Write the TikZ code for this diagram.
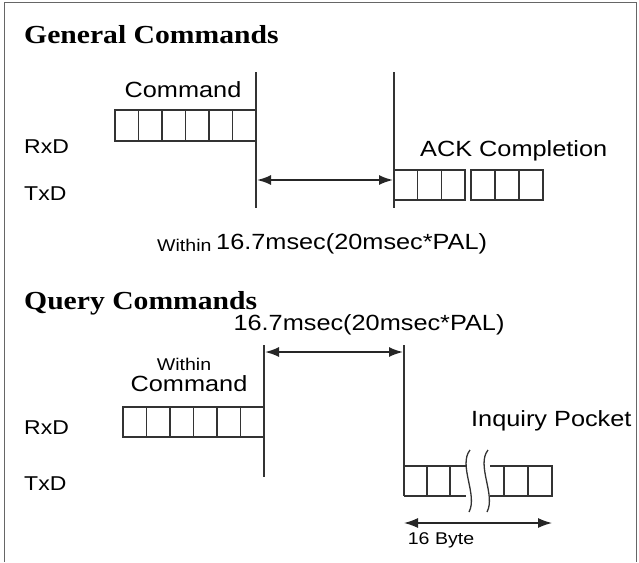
\documentclass[tikz,border=0pt]{standalone}
\usepackage{fontspec}
\setmainfont{Liberation Sans}[FakeStretch=1.15]
\newfontfamily\hdfont{Liberation Serif}[FakeStretch=1.14]
\usetikzlibrary{arrows.meta}
\begin{document}
\begin{tikzpicture}[x=1pt,y=-1pt,
  lbl/.style={font=\fontsize{22}{24}\selectfont, inner sep=0pt},
  side/.style={font=\fontsize{20}{22}\selectfont, inner sep=0pt, anchor=west},
  small/.style={font=\fontsize{17}{19}\selectfont, inner sep=0pt},
  hd/.style={font=\hdfont\bfseries\fontsize{26}{28}\selectfont, inner sep=0pt, anchor=west},
  ln/.style={line width=1.3pt, draw=black!80},
  tip/.style={Latex[length=13pt,width=9pt]},
  arr/.style={draw=black!85, line width=1.8pt, {Latex[length=14pt,width=10pt]}-{Latex[length=14pt,width=10pt]}}]
\useasboundingbox (0,0) rectangle (639,562);
\draw[black!60, line width=1pt] (4,562) -- (4,2) -- (636,2) -- (636,562);
% General
\node[hd] (g) at (24,35) {General Commands};
\node[side] (r1) at (24,147) {RxD};
\node[side] (t1) at (24,194) {TxD};
\foreach \i in {0,...,5} \draw[ln] (115+\i*23.5,110) rectangle ++(23.5,31);
\coordinate (a1) at (256,72); \coordinate (a1b) at (256,208);
\coordinate (b1) at (394,72); \coordinate (b1b) at (394,208);
\draw[ln] (a1) -- (a1b); \draw[ln] (b1) -- (b1b);
\coordinate (aa) at (257,180); \coordinate (bb) at (393,180);
\draw[arr] (aa) -- (bb);
\foreach \i in {0,...,2} \draw[ln] (394+\i*23.7,170) rectangle ++(23.7,30);
\foreach \i in {0,...,2} \draw[ln] (471+\i*24,170) rectangle ++(24,30);
\node[lbl] (c1) at (183,90) {Command};
\node[lbl, anchor=west] (ack) at (420,151) {ACK Completion};
\node[small, anchor=base west] (w1) at (157,251) {Within};
\node[lbl, anchor=base west] (t17) at (216,249) {16.7msec(20msec*PAL)};
% Query
\node[hd] (q) at (24,303) {Query Commands};
\node[side] (r2) at (24,428) {RxD};
\node[side] (t2) at (24,484) {TxD};
\coordinate (a2) at (264,345); \coordinate (a2b) at (264,477);
\coordinate (b2) at (404,345); \coordinate (b2b) at (404,480);
\draw[ln] (a2) -- (a2b); \draw[ln] (b2) -- (b2b);
\coordinate (aq) at (265,352); \coordinate (bq) at (403,352);
\draw[arr] (aq) -- (bq);
\node[lbl] (t172) at (369,325) {16.7msec(20msec*PAL)};
\node[small] (w2) at (184,364) {Within};
\node[lbl] (c2) at (189,384) {Command};
\foreach \i in {0,...,5} \draw[ln] (123+\i*23.5,407) rectangle ++(23.5,30);
\draw[ln] (404,466) -- (478,466) (404,496) -- (478,496);
\draw[ln] (404,466) -- (404,496) (427,466) -- (427,496) (450,466) -- (450,496);
\draw[ln] (478,466) -- (552,466) -- (552,496) -- (478,496);
\draw[ln] (504,466) -- (504,496) (528,466) -- (528,496);
\fill[white] (466,462) -- (490,462) -- (490,500) -- (466,500) -- cycle;
\draw[ln] (470,450) .. controls (458,465) and (478,495) .. (469,512);
\draw[ln] (488,450) .. controls (476,465) and (496,495) .. (487,512);
\coordinate (s1) at (404,523); \coordinate (s2) at (552,523);
\draw[arr, line width=1.3pt] (s1) -- (s2);
\node[small] (sb) at (441,540) {16 Byte};
\node[lbl, anchor=west] (ip) at (471,421) {Inquiry Pocket};
\end{tikzpicture}
\end{document}
